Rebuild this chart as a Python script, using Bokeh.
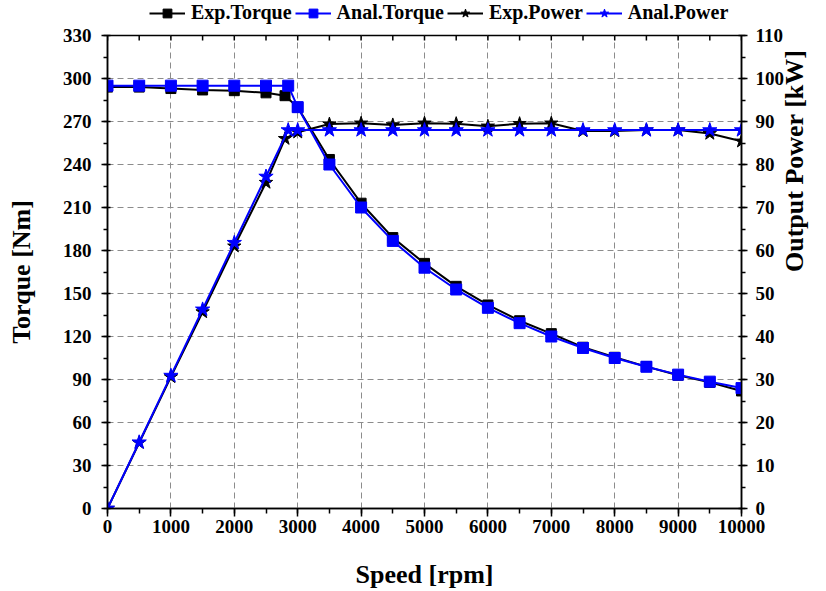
import math
from bokeh.plotting import figure
from bokeh.layouts import column
from bokeh.models import (Range1d, LinearAxis, SingleIntervalTicker, Legend, LegendItem)
from bokeh.embed import file_html
from bokeh.resources import INLINE

# ---- data ----
exp_speed = [0, 500, 1000, 1500, 2000, 2500, 2800, 3000, 3500, 4000, 4500, 5000,
             5500, 6000, 6500, 7000, 7500, 8000, 8500, 9000, 9500, 10000]
exp_torque = [294, 294, 293, 292, 291.5, 290, 288, 280, 243.5, 213, 189, 171,
              155, 142, 131, 122, 112.5, 105.5, 99, 93, 88, 82]
exp_power = [0, 15.3, 30.6, 45.7, 61, 75.8, 86, 87.5, 89.4, 89.6, 89.2, 89.6,
             89.5, 88.9, 89.5, 89.6, 87.8, 87.8, 88, 88, 87.2, 85.4]

anal_speed = [0, 500, 1000, 1500, 2000, 2500, 2850, 3000, 3500, 4000, 4500, 5000,
              5500, 6000, 6500, 7000, 7500, 8000, 8500, 9000, 9500, 10000]
anal_torque = [295, 295, 295, 295, 295, 295, 295, 280, 240, 210, 186.7, 168,
               152.8, 140, 129.3, 120, 112, 105, 98.9, 93.4, 88.5, 84]
anal_power = [0, 15.4, 30.9, 46.3, 61.8, 77.2, 88, 88, 88, 88, 88, 88,
              88, 88, 88, 88, 88, 88, 88, 88, 88, 88]

labels = ["Exp.Torque", "Anal.Torque", "Exp.Power", "Anal.Power"]
colors = ["black", "blue", "black", "blue"]
markers = ["square", "square", "star", "star"]
series = [(exp_speed, exp_torque), (anal_speed, anal_torque),
          (exp_speed, exp_power), (anal_speed, anal_power)]

X_MAX, T_MAX, P_MAX = 10000, 330, 110
FONT = "Liberation Serif"
HEADER_H = 24

# ---------------- main figure ----------------
p = figure(width=826, height=591 - HEADER_H, output_backend="svg", toolbar_location=None,
           x_range=Range1d(0, X_MAX), y_range=Range1d(0, T_MAX),
           min_border_left=107, min_border_right=85, min_border_top=11,
           min_border_bottom=81, background_fill_color="white")
p.extra_y_ranges = {"power": Range1d(0, P_MAX)}
p.outline_line_color = "black"
p.outline_line_width = 1.5

for g in (p.xgrid, p.ygrid):
    g.grid_line_color = "#8c8c8c"
    g.grid_line_dash = "6 4"
    g.grid_line_width = 1

def style_axis(ax, tick_in=0, tick_out=6, minor_in=0, minor_out=4):
    ax.axis_line_color = "black"
    ax.axis_line_width = 1.5
    ax.major_tick_line_width = 1.5
    ax.minor_tick_line_width = 1.5
    ax.major_tick_in = tick_in
    ax.major_tick_out = tick_out
    ax.minor_tick_in = minor_in
    ax.minor_tick_out = minor_out
    ax.major_label_text_font = FONT
    ax.major_label_text_font_style = "bold"
    ax.major_label_text_font_size = "19px"
    ax.major_label_text_color = "black"
    ax.axis_label_text_font = FONT
    ax.axis_label_text_font_style = "bold"
    ax.axis_label_text_font_size = "26px"
    ax.axis_label_text_line_height = 1.0
    ax.axis_label_text_color = "black"

xa = p.xaxis[0]
xa.ticker = SingleIntervalTicker(interval=1000, num_minor_ticks=2)
p.xgrid.ticker = xa.ticker
style_axis(xa, tick_in=0, tick_out=8, minor_in=0, minor_out=5)
xa.major_label_standoff = 3
xa.axis_label = "Speed [rpm]"
xa.axis_label_standoff = 24

ya = p.yaxis[0]
ya.ticker = SingleIntervalTicker(interval=30, num_minor_ticks=2)
p.ygrid.ticker = ya.ticker
style_axis(ya, tick_in=3, tick_out=6, minor_in=0, minor_out=4)
ya.major_label_standoff = 10
ya.axis_label = "Torque [Nm]"
ya.axis_label_standoff = 24

ra = LinearAxis(y_range_name="power",
                ticker=SingleIntervalTicker(interval=10, num_minor_ticks=2))
style_axis(ra, tick_in=3, tick_out=6, minor_in=0, minor_out=4)
ra.major_label_standoff = 8
ra.axis_label = "Output Power [kW]"
ra.axis_label_standoff = 7
ra.axis_label_orientation = math.pi / 2
p.add_layout(ra, "right")

# inward ticks along the top edge (every 500 rpm), drawn as dashes clipped by the frame
top_ticks = list(range(0, X_MAX + 1, 500))
p.scatter(top_ticks, [T_MAX] * len(top_ticks), marker="dash", angle=math.pi / 2,
          size=10, line_color="black", line_width=1.5)

# series
p.line(exp_speed, exp_torque, line_color="black", line_width=2)
p.scatter(exp_speed, exp_torque, marker="square", size=10,
          fill_color="black", line_color="black")
p.line(anal_speed, anal_torque, line_color="blue", line_width=2)
p.scatter(anal_speed, anal_torque, marker="square", size=11,
          fill_color="blue", line_color="blue")
p.line(exp_speed, exp_power, line_color="black", line_width=2, y_range_name="power")
p.scatter(exp_speed, exp_power, marker="star", size=14,
          fill_color="black", line_color="black", y_range_name="power")
p.line(anal_speed, anal_power, line_color="blue", line_width=2, y_range_name="power")
p.scatter(anal_speed, anal_power, marker="star", size=15,
          fill_color="blue", line_color="blue", y_range_name="power")

# ---------------- legend strip above the plot ----------------
# ranges chosen so that the series drawn here fall outside: only legend glyphs show
h = figure(width=826, height=HEADER_H, output_backend="svg", toolbar_location=None,
           x_range=Range1d(-2, -1), y_range=Range1d(-2, -1),
           min_border=0, background_fill_color="white")
h.axis.visible = False
h.grid.visible = False
h.outline_line_color = None

items = []
for lab, col, mk, (xs, ys) in zip(labels, colors, markers, series):
    lr = h.line(xs, ys, line_color=col, line_width=2)
    sr = h.scatter(xs, ys, marker=mk, size=10, fill_color=col, line_color=col)
    items.append(LegendItem(label=lab, renderers=[lr, sr]))

legend = Legend(items=items, orientation="horizontal", location=(42, 0))
legend.background_fill_alpha = 0
legend.border_line_color = None
legend.label_text_font = FONT
legend.label_text_font_style = "bold"
legend.label_text_font_size = "20px"
legend.label_text_color = "black"
legend.label_height = 18
legend.glyph_width = 36
legend.glyph_height = 22
legend.label_standoff = 6
legend.spacing = 3
legend.padding = 0
legend.margin = 0
h.add_layout(legend, "center")

layout = column(h, p, spacing=0)
open("out.html", "w").write(file_html(layout, INLINE))
